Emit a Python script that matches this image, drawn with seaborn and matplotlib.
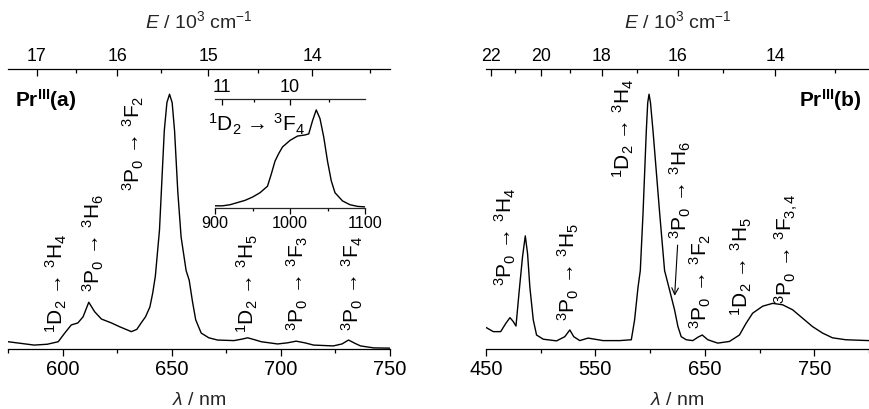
import numpy as np
import matplotlib
matplotlib.use("Agg")
import matplotlib.pyplot as plt
from matplotlib.ticker import FixedLocator
import seaborn as sns

# ---------------- data ----------------
# Pr(III) sample (a): visible emission, wavelength in nm, normalised intensity
wl_a = [575, 581, 587, 593, 598, 601, 604, 607, 609.4, 612, 614.7, 617.8, 622.4, 626,
        631.5, 634, 636, 638, 640, 641.3, 642.5, 644.4, 646.6, 647.8, 649, 650.2,
        651.3, 652.8, 654.3, 656.6, 658, 659.5, 661, 663.5, 667, 671, 678.5, 682,
        684.8, 688, 691, 698.5, 703, 707, 711, 715, 724, 728, 731, 734, 736.5,
        742.5, 750]
int_a = [0.026, 0.020, 0.014, 0.017, 0.026, 0.057, 0.086, 0.093, 0.115, 0.167, 0.133,
         0.107, 0.093, 0.080, 0.062, 0.070, 0.093, 0.115, 0.150, 0.200, 0.260, 0.425,
         0.780, 0.880, 0.910, 0.880, 0.780, 0.560, 0.400, 0.280, 0.246, 0.170, 0.104,
         0.057, 0.040, 0.032, 0.030, 0.035, 0.040, 0.033, 0.026, 0.018, 0.022, 0.028,
         0.022, 0.014, 0.011, 0.018, 0.032, 0.020, 0.011, 0.004, 0.003]

# Pr(III) sample (a): near-infrared 1D2 -> 3F4 band (inset)
wl_nir = [900, 910, 920, 930, 940, 950, 960, 970, 975, 980, 985, 990, 1000, 1010,
          1020, 1025, 1030, 1035, 1040, 1045, 1050, 1055, 1060, 1070, 1080, 1090, 1100]
int_nir = [0.02, 0.02, 0.03, 0.05, 0.07, 0.10, 0.14, 0.20, 0.31, 0.43, 0.50, 0.56,
           0.62, 0.66, 0.67, 0.68, 0.80, 0.90, 0.82, 0.65, 0.43, 0.25, 0.14, 0.065,
           0.03, 0.015, 0.01]

# Pr(III) sample (b): visible emission
wl_b = [450, 456.7, 463.4, 468.2, 471.9, 474.9, 477.4, 480.4, 483.4, 485.9, 488,
        490.1, 493.2, 496.2, 502.3, 514.5, 522, 526.6, 530.2, 535.7, 543.3, 557,
        572.2, 582.8, 585.8, 588.9, 591, 593.5, 596.5, 597.8, 599, 600.3, 602.6,
        605.5, 608.7, 613.2, 617.8, 622.3, 625.4, 628.4, 633, 639, 643.6, 647.6,
        652.7, 661.8, 672.5, 681.6, 687.7, 693.7, 702.9, 712, 721, 730.2, 739.3,
        748.4, 757.5, 766.6, 778.8, 800]
int_b = [0.077, 0.062, 0.062, 0.092, 0.112, 0.098, 0.082, 0.210, 0.330, 0.404, 0.340,
         0.220, 0.104, 0.050, 0.035, 0.029, 0.044, 0.068, 0.044, 0.030, 0.039, 0.030,
         0.030, 0.033, 0.104, 0.220, 0.280, 0.485, 0.780, 0.880, 0.910, 0.880, 0.780,
         0.640, 0.485, 0.280, 0.210, 0.140, 0.080, 0.044, 0.033, 0.030, 0.042, 0.050,
         0.033, 0.021, 0.027, 0.050, 0.092, 0.128, 0.153, 0.163, 0.158, 0.140, 0.110,
         0.080, 0.057, 0.040, 0.033, 0.030]

# transition labels: (text, wavelength, bottom of label)
labels_a = [
    (r"$^{1}$D$_{2}$ → $^{3}$H$_{4}$", 597.3, 0.058),
    (r"$^{3}$P$_{0}$ → $^{3}$H$_{6}$", 614.2, 0.205),
    (r"$^{3}$P$_{0}$ → $^{3}$F$_{2}$", 632.4, 0.565),
    (r"$^{1}$D$_{2}$ → $^{3}$H$_{5}$", 684.9, 0.058),
    (r"$^{3}$P$_{0}$ → $^{3}$F$_{3}$", 707.8, 0.065),
    (r"$^{3}$P$_{0}$ → $^{3}$F$_{4}$", 732.9, 0.065),
]
labels_b = [
    (r"$^{3}$P$_{0}$ → $^{3}$H$_{4}$", 467.3, 0.226),
    (r"$^{3}$P$_{0}$ → $^{3}$H$_{5}$", 525.0, 0.100),
    (r"$^{1}$D$_{2}$ → $^{3}$H$_{4}$", 576.0, 0.610),
    (r"$^{3}$P$_{0}$ → $^{3}$H$_{6}$", 627.8, 0.392),
    (r"$^{3}$P$_{0}$ → $^{3}$F$_{2}$", 646.0, 0.072),
    (r"$^{1}$D$_{2}$ → $^{3}$H$_{5}$", 683.4, 0.118),
    (r"$^{3}$P$_{0}$ → $^{3}$F$_{3,4}$", 724.5, 0.160),
]

# ---------------- style ----------------
sns.set_theme(style="white")
plt.rcParams["font.family"] = ["Liberation Sans", "DejaVu Sans"]
plt.rcParams["mathtext.fontset"] = "custom"
plt.rcParams["mathtext.rm"] = "Liberation Sans"
plt.rcParams["mathtext.it"] = "Liberation Sans:italic"
plt.rcParams["mathtext.bf"] = "Liberation Sans:bold"
plt.rcParams["mathtext.sf"] = "Liberation Sans"
plt.rcParams["axes.linewidth"] = 0.9
plt.rcParams["text.color"] = "black"


def to_wavenumber(x):
    x = np.asarray(x, dtype=float)
    with np.errstate(divide="ignore", invalid="ignore"):
        return 1e4 / x


LW = 1.0
LABEL_FS = 15

fig = plt.figure(figsize=(8.69, 4.09), dpi=100)
W, H = 869.0, 409.0


def px_axes(x0, x1, ytop, ybot):
    return fig.add_axes([x0 / W, (H - ybot) / H, (x1 - x0) / W, (ybot - ytop) / H])


def style_main(ax, xlim, major, minor, top_major, top_minor):
    ax.set_xlim(*xlim)
    ax.set_ylim(0, 1)
    ax.set_yticks([])
    for s in ("top", "left", "right"):
        ax.spines[s].set_visible(False)
    ax.spines["bottom"].set_color("black")
    ax.set_xticks(major)
    ax.set_xticklabels([str(v) for v in major])
    ax.xaxis.set_minor_locator(FixedLocator(minor))
    ax.tick_params(axis="x", which="major", direction="out", length=5, width=0.9,
                   labelsize=14.5, pad=3, colors="black", bottom=True)
    ax.tick_params(axis="x", which="minor", direction="out", length=3, width=0.9,
                   bottom=True, colors="black")
    ax.set_xlabel(r"$\lambda$ / nm", fontsize=14, labelpad=9)
    ax.set_ylabel("")
    sec = ax.secondary_xaxis("top", functions=(to_wavenumber, to_wavenumber))
    sec.set_xticks(top_major)
    sec.set_xticklabels([str(v) for v in top_major])
    sec.xaxis.set_minor_locator(FixedLocator(top_minor))
    sec.tick_params(axis="x", which="major", direction="in", length=5, width=0.9,
                    labelsize=12.8, pad=3, colors="black")
    sec.tick_params(axis="x", which="minor", direction="in", length=3, width=0.9,
                    colors="black")
    sec.spines["top"].set_color("black")
    sec.set_xlabel(r"$E$ / 10$^{3}$ cm$^{-1}$", fontsize=14, labelpad=14.5)
    return sec


# ---------------- panel (a) ----------------
ax1 = px_axes(8, 390, 69, 349)
sns.lineplot(x=wl_a, y=int_a, ax=ax1, color="black", linewidth=LW,
             estimator=None, sort=False)
style_main(ax1, (575, 750), [600, 650, 700, 750], [575, 625, 675, 725],
           [17, 16, 15, 14], [16.5, 15.5, 14.5, 13.5])
for txt, x, y in labels_a:
    ax1.text(x, y, txt, rotation=90, ha="center", va="bottom", fontsize=LABEL_FS)
ax1.text(0.018, 0.889, r"$\mathbf{Pr^{III}(a)}$", transform=ax1.transAxes,
         ha="left", va="center", fontsize=15)

# inset: NIR band
axi = px_axes(215, 365, 99, 208)
sns.lineplot(x=wl_nir, y=int_nir, ax=axi, color="black", linewidth=LW,
             estimator=None, sort=False)
axi.set_xlim(900, 1100)
axi.set_ylim(0, 1)
axi.set_yticks([])
axi.patch.set_alpha(0)
for s in ("top", "left", "right"):
    axi.spines[s].set_visible(False)
axi.set_xticks([900, 1000, 1100])
axi.set_xticklabels(["900", "1000", "1100"])
axi.xaxis.set_minor_locator(FixedLocator([950, 1050]))
axi.tick_params(axis="x", which="major", direction="out", length=4, width=0.9,
                labelsize=11.7, pad=2, bottom=True, colors="black")
axi.tick_params(axis="x", which="minor", direction="out", length=2.5, width=0.9,
                bottom=True, colors="black")
axi.set_xlabel("")
axi.set_ylabel("")
seci = axi.secondary_xaxis("top", functions=(to_wavenumber, to_wavenumber))
seci.set_xticks([11, 10])
seci.set_xticklabels(["11", "10"])
seci.xaxis.set_minor_locator(FixedLocator([10.5, 9.5]))
seci.tick_params(axis="x", which="major", direction="in", length=4, width=0.9,
                 labelsize=13, pad=2, colors="black")
seci.tick_params(axis="x", which="minor", direction="in", length=2.5, width=0.9,
                 colors="black")
axi.text(-0.047, 0.70, r"$^{1}$D$_{2}$ → $^{3}$F$_{4}$", transform=axi.transAxes,
         ha="left", va="baseline", fontsize=LABEL_FS)

# ---------------- panel (b) ----------------
ax2 = px_axes(486, 869, 69, 349)
sns.lineplot(x=wl_b, y=int_b, ax=ax2, color="black", linewidth=LW,
             estimator=None, sort=False)
style_main(ax2, (450, 800), [450, 550, 650, 750], [500, 600, 700, 800],
           [22, 20, 18, 16, 14], [21, 19, 17, 15, 13])
for txt, x, y in labels_b:
    ax2.text(x, y, txt, rotation=90, ha="center", va="bottom", fontsize=LABEL_FS)
ax2.annotate("", xy=(622.4, 0.190), xytext=(625.1, 0.371),
             arrowprops=dict(arrowstyle="->", lw=0.8, color="black",
                             shrinkA=0, shrinkB=0))
ax2.text(0.982, 0.889, r"$\mathbf{Pr^{III}(b)}$", transform=ax2.transAxes,
         ha="right", va="center", fontsize=15)

fig.savefig("out.png", dpi=100)
